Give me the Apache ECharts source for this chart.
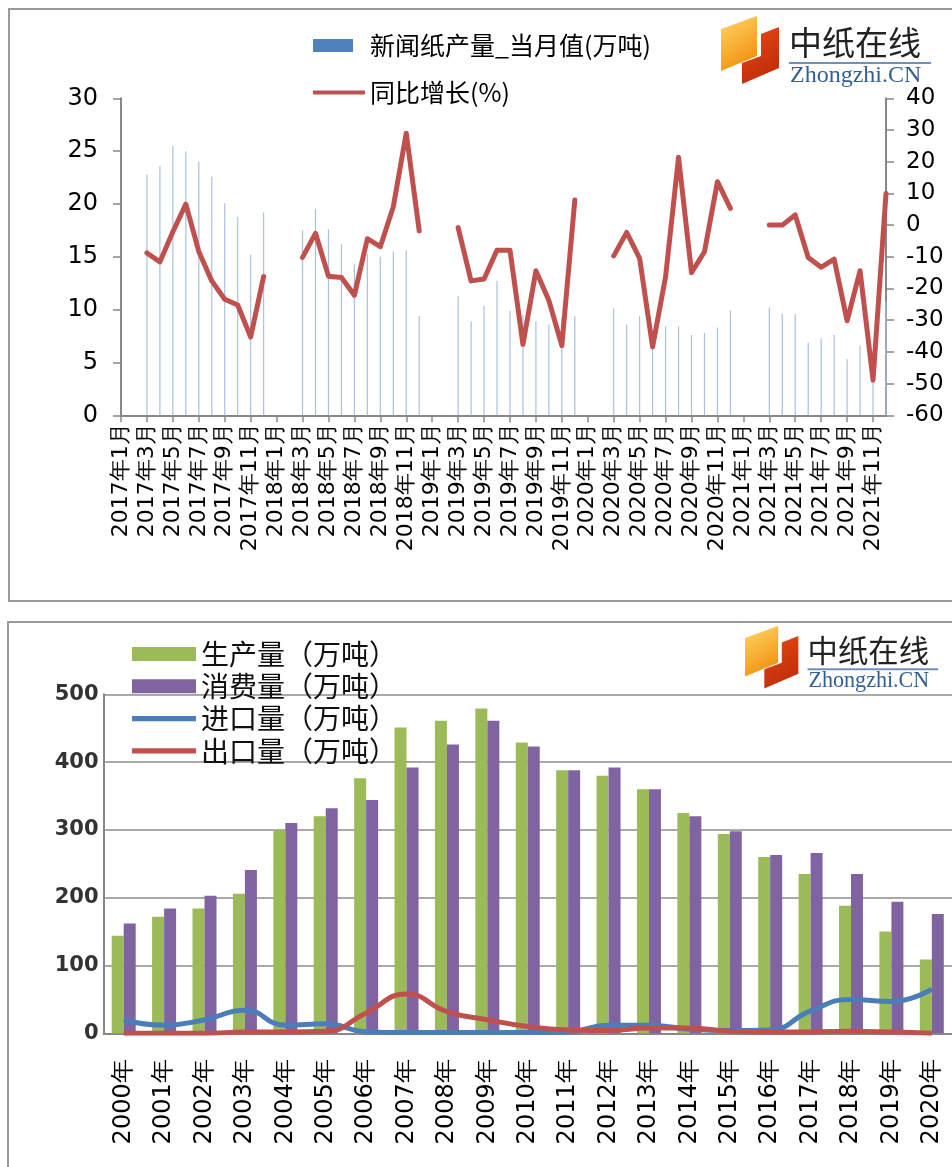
<!DOCTYPE html>
<html lang="zh">
<head>
<meta charset="UTF-8">
<title>新闻纸产量</title>
<script src="https://cdn.jsdelivr.net/npm/echarts@6/dist/echarts.min.js"></script>
<style>
  html, body { margin: 0; padding: 0; background: #fff; }
  #main { width: 952px; height: 1167px; }
</style>
</head>
<body>
<div id="main"></div>
<script>
// ---- 上图：新闻纸月度产量 ----
const months = [];
for (let y = 2017; y <= 2021; y++) {
  for (let m = 1; m <= 12; m++) months.push(y + '年' + m + '月');
}
// 1、2月无单月数据
const output = [
  null, null, 22.8, 23.6, 25.5, 25.0, 24.0, 22.6, 20.1, 18.8, 15.2, 19.2,
  null, null, 17.5, 19.5, 17.6, 16.2, 14.3, 15.3, 15.0, 15.5, 15.6, 9.4,
  null, null, 11.3, 8.9, 10.4, 12.7, 9.9, 9.5, 8.9, 8.6, 9.2, 9.4,
  null, null, 10.1, 8.6, 9.4, 7.8, 8.4, 8.4, 7.6, 7.8, 8.3, 9.9,
  null, null, 10.2, 9.6, 9.6, 6.9, 7.3, 7.6, 5.3, 6.6, 4.3, 10.8
];
const growth = [
  null, null, -8.8, -11.6, -2.1, 6.6, -8.3, -17.6, -23.4, -25.2, -35.3, -16.2,
  null, null, -10.2, -2.6, -16.1, -16.5, -22.1, -4.3, -6.8, 5.8, 29.0, -1.8,
  null, null, -0.8, -17.6, -17.0, -7.9, -7.9, -37.6, -14.4, -23.8, -38.0, 7.9,
  null, null, -9.7, -2.3, -10.5, -38.4, -16.3, 21.4, -15.0, -8.4, 13.7, 5.3,
  null, null, 0, 0, 3.2, -10.2, -13.3, -10.7, -30.2, -14.4, -48.9, 10.0
];

// ---- 下图：年度供需 ----
const years = ['2000年', '2001年', '2002年', '2003年', '2004年', '2005年', '2006年',
  '2007年', '2008年', '2009年', '2010年', '2011年', '2012年', '2013年', '2014年',
  '2015年', '2016年', '2017年', '2018年', '2019年', '2020年'];
const production = [144, 172, 184, 206, 300, 320, 376, 451, 461, 479, 429, 388, 380, 360, 325, 294, 260, 235, 188, 150, 109];
const consumption = [162, 184, 203, 241, 310, 332, 344, 392, 426, 461, 423, 388, 392, 360, 320, 298, 263, 266, 235, 194, 176];
const imports = [20, 12, 20, 34, 12, 14, 2, 1, 1, 1, 1, 2, 12, 12, 6, 4, 5, 33, 50, 47, 65];
const exports = [0, 0, 0, 2, 2, 3, 30, 58, 32, 20, 10, 5, 4, 8, 8, 3, 2, 2, 3, 2, 0];

const axisGray = '#878787';
const numFont = 'DejaVu Sans';
const cjkFont = 'Noto Sans CJK SC';
const lineIcon = 'path://M0,0H100V8H0Z';

// 中纸在线 logo
function logo(x, y, s) {
  return {
    type: 'group', x: x, y: y, scaleX: s, scaleY: s,
    children: [
      { type: 'polygon', shape: { points: [[0, 13], [36, 0], [36, 40], [0, 55]] },
        style: { fill: new echarts.graphic.LinearGradient(0, 0, 1, 1, [
          { offset: 0, color: '#ffd86a' }, { offset: 1, color: '#f08400' }]) } },
      { type: 'polygon', shape: { points: [[40, 18], [58, 11], [58, 52], [21, 68], [21, 47], [40, 40]] },
        style: { fill: new echarts.graphic.LinearGradient(0, 0, 1, 1, [
          { offset: 0, color: '#e84a14' }, { offset: 1, color: '#b82808' }]) } },
      { type: 'text', x: 68, y: 10, style: { text: '中纸在线', font: '33px "Noto Sans CJK SC"', fill: '#222' } },
      { type: 'line', shape: { x1: 68, y1: 47, x2: 210, y2: 47 }, style: { stroke: '#6f8fbf', lineWidth: 2 } },
      { type: 'text', x: 69, y: 48, style: { text: 'Zhongzhi.CN', font: '24px "Liberation Serif"', fill: '#2f5f96' } }
    ]
  };
}

const chart = echarts.init(document.getElementById('main'));

chart.setOption({
  animation: false,
  graphic: [
    { type: 'rect', shape: { x: 9, y: 9, width: 960, height: 592 }, style: { fill: 'none', stroke: '#9a9a9a', lineWidth: 2 } },
    { type: 'rect', shape: { x: 8, y: 622, width: 960, height: 600 }, style: { fill: 'none', stroke: '#9a9a9a', lineWidth: 2 } },
    logo(721, 16, 1),
    logo(745, 626, 0.92)
  ],
  legend: [
    {
      left: 313, top: 33, padding: 0, itemWidth: 40, itemHeight: 13,
      data: [{ name: '新闻纸产量_当月值(万吨)', icon: 'rect', itemStyle: { color: '#4f81bd' } }],
      textStyle: { fontFamily: cjkFont, fontSize: 25, color: '#000', padding: [0, 0, 0, 12] }
    },
    {
      left: 313, top: 80, padding: 0, itemWidth: 52, itemHeight: 13,
      data: [{ name: '同比增长(%)', icon: lineIcon }],
      textStyle: { fontFamily: cjkFont, fontSize: 25, color: '#000' }
    },
    {
      left: 132, top: 640, padding: 0, orient: 'vertical', itemWidth: 64, itemHeight: 14, itemGap: 4.3,
      data: [
        { name: '生产量（万吨）', icon: 'rect' },
        { name: '消费量（万吨）', icon: 'rect' },
        { name: '进口量（万吨）', icon: lineIcon },
        { name: '出口量（万吨）', icon: lineIcon }
      ],
      textStyle: { fontFamily: cjkFont, fontSize: 28, lineHeight: 28, color: '#111' }
    }
  ],
  grid: [
    { left: 121, top: 98.3, width: 765, height: 317 },
    { left: 103.5, top: 694.3, width: 855, height: 339 }
  ],
  xAxis: [
    {
      type: 'category', gridIndex: 0, data: months, boundaryGap: false,
      axisLine: { lineStyle: { color: axisGray, width: 2 } },
      axisTick: { interval: 1, length: 7, lineStyle: { color: axisGray, width: 1.5 } },
      axisLabel: { interval: 1, rotate: 90, margin: 8, fontFamily: numFont, fontSize: 22, color: '#000' }
    },
    {
      type: 'category', gridIndex: 1, data: years,
      axisLine: { lineStyle: { color: axisGray, width: 2 } },
      axisTick: { length: 7, lineStyle: { color: axisGray, width: 1.5 } },
      axisLabel: { interval: 0, rotate: 90, margin: 26, fontFamily: numFont, fontSize: 24, color: '#000' }
    }
  ],
  yAxis: [
    {
      type: 'value', gridIndex: 0, min: 0, max: 30, interval: 5,
      axisLine: { show: true, lineStyle: { color: axisGray, width: 2 } },
      axisTick: { show: true, length: 8, lineStyle: { color: axisGray, width: 1.5 } },
      splitLine: { show: false },
      axisLabel: { margin: 23, fontFamily: numFont, fontSize: 24, color: '#000' }
    },
    {
      type: 'value', gridIndex: 0, position: 'right', min: -60, max: 40, interval: 10,
      axisLine: { show: true, lineStyle: { color: axisGray, width: 2 } },
      axisTick: { show: true, length: 8, lineStyle: { color: axisGray, width: 1.5 } },
      splitLine: { show: false },
      axisLabel: { margin: 20, fontFamily: numFont, fontSize: 23, color: '#000' }
    },
    {
      type: 'value', gridIndex: 1, min: 0, max: 500, interval: 100,
      axisLine: { show: true, lineStyle: { color: axisGray, width: 2 } },
      axisTick: { show: false },
      splitLine: { lineStyle: { color: '#8c8c8c', width: 1.5 } },
      axisLabel: { margin: 5, fontFamily: numFont, fontWeight: 'bold', fontSize: 21, color: '#333' }
    }
  ],
  series: [
    {
      name: '新闻纸产量_当月值(万吨)', type: 'bar', xAxisIndex: 0, yAxisIndex: 0,
      data: output, barWidth: 1.2, itemStyle: { color: '#a8c0de' }
    },
    {
      name: '同比增长(%)', type: 'line', xAxisIndex: 0, yAxisIndex: 1,
      data: growth, symbol: 'none', connectNulls: false,
      lineStyle: { color: '#c0504d', width: 5, cap: 'round', join: 'round' },
      itemStyle: { color: '#c0504d' }
    },
    {
      name: '生产量（万吨）', type: 'bar', xAxisIndex: 1, yAxisIndex: 2,
      data: production, barWidth: 12, barGap: 0, itemStyle: { color: '#9bbb59' }
    },
    {
      name: '消费量（万吨）', type: 'bar', xAxisIndex: 1, yAxisIndex: 2,
      data: consumption, barWidth: 12, barGap: 0, itemStyle: { color: '#8064a2' }
    },
    {
      name: '进口量（万吨）', type: 'line', xAxisIndex: 1, yAxisIndex: 2,
      data: imports, smooth: true, symbol: 'none',
      lineStyle: { color: '#4a7ebb', width: 5 }, itemStyle: { color: '#4a7ebb' }
    },
    {
      name: '出口量（万吨）', type: 'line', xAxisIndex: 1, yAxisIndex: 2,
      data: exports, smooth: true, symbol: 'none',
      lineStyle: { color: '#c0504d', width: 5 }, itemStyle: { color: '#c0504d' }
    }
  ]
});
</script>
</body>
</html>
